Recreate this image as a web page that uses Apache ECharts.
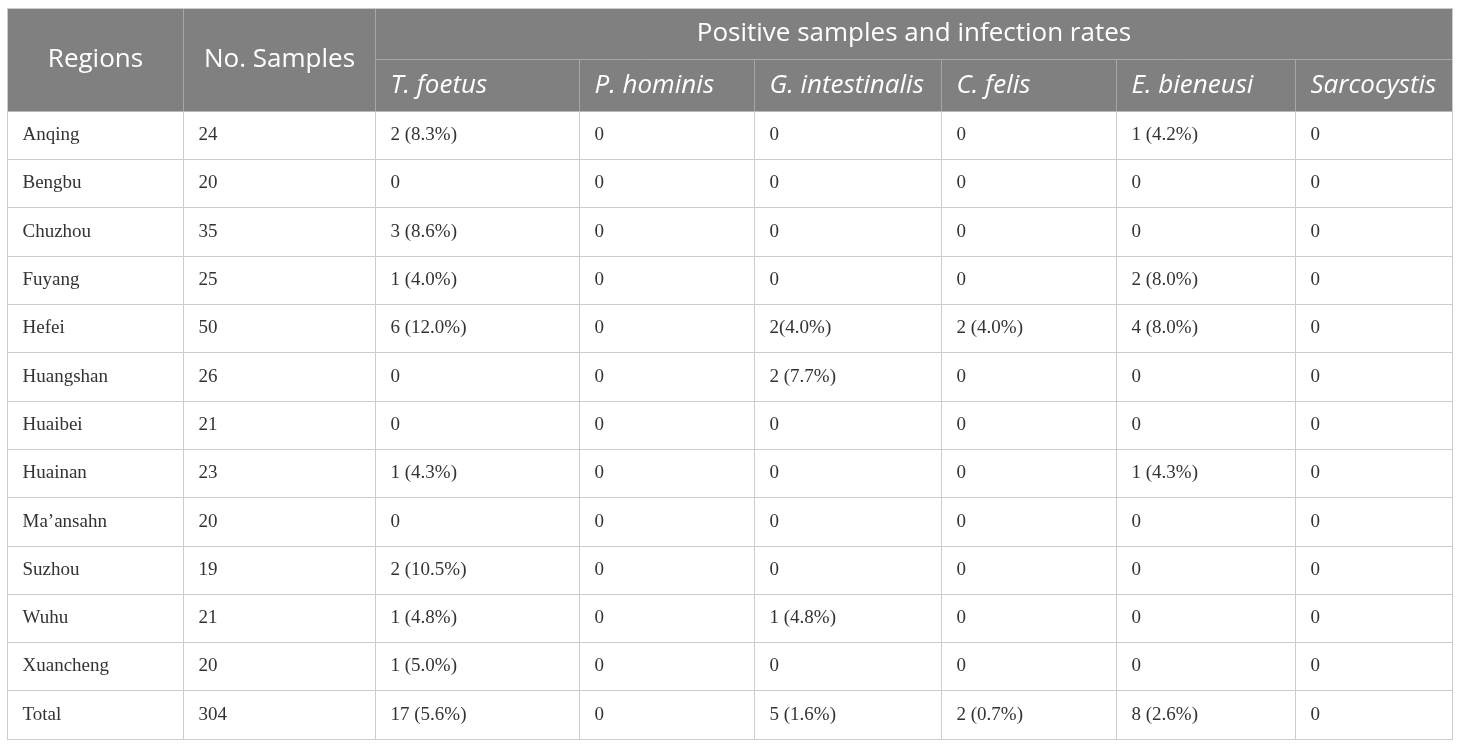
<!DOCTYPE html>
<html>
<head>
<meta charset="utf-8">
<style>
  html, body { margin: 0; padding: 0; background: #fff; }
  #chart { width: 1460px; height: 747px; }
</style>
<script src="https://cdn.jsdelivr.net/npm/echarts@6/dist/echarts.min.js"></script>
</head>
<body>
<div id="chart"></div>
<script>
  // Données du tableau
  const regions = ['Anqing', 'Bengbu', 'Chuzhou', 'Fuyang', 'Hefei', 'Huangshan', 'Huaibei',
    'Huainan', 'Ma\u2019ansahn', 'Suzhou', 'Wuhu', 'Xuancheng', 'Total'];
  const samples = ['24', '20', '35', '25', '50', '26', '21', '23', '20', '19', '21', '20', '304'];
  const species = ['T. foetus', 'P. hominis', 'G. intestinalis', 'C. felis', 'E. bieneusi', 'Sarcocystis'];
  const tFoetus = ['2 (8.3%)', '0', '3 (8.6%)', '1 (4.0%)', '6 (12.0%)', '0', '0', '1 (4.3%)', '0', '2 (10.5%)', '1 (4.8%)', '1 (5.0%)', '17 (5.6%)'];
  const pHominis = ['0', '0', '0', '0', '0', '0', '0', '0', '0', '0', '0', '0', '0'];
  const gIntestinalis = ['0', '0', '0', '0', '2(4.0%)', '2 (7.7%)', '0', '0', '0', '0', '1 (4.8%)', '0', '5 (1.6%)'];
  const cFelis = ['0', '0', '0', '0', '2 (4.0%)', '0', '0', '0', '0', '0', '0', '0', '2 (0.7%)'];
  const eBieneusi = ['1 (4.2%)', '0', '0', '2 (8.0%)', '4 (8.0%)', '0', '0', '1 (4.3%)', '0', '0', '0', '0', '8 (2.6%)'];
  const sarcocystis = ['0', '0', '0', '0', '0', '0', '0', '0', '0', '0', '0', '0', '0'];

  const columns = [regions, samples, tFoetus, pHominis, gIntestinalis, cFelis, eBieneusi, sarcocystis];
  const colWidths = [176, 192, 204, 175, 187, 175, 179, 157];

  const sansFont = '"Open Sans", "Noto Sans", sans-serif';
  const serifFont = '"Liberation Serif", "DejaVu Serif", serif';

  function buildBody() {
    const cells = [];
    columns.forEach((col, x) => {
      col.forEach((v, y) => {
        cells.push({ coord: [x, y], value: v });
      });
    });
    return cells;
  }

  const chart = echarts.init(document.getElementById('chart'));

  const option = {
    backgroundColor: '#fff',
    matrix: {
      left: 7,
      top: 8,
      width: 1445,
      height: 731,
      backgroundStyle: {
        color: '#fff',
        borderColor: '#cccccc',
        borderWidth: 1
      },
      x: {
        show: true,
        levels: [{ levelSize: 51 }, { levelSize: 52 }],
        data: [
          { value: 'Regions', size: colWidths[0] },
          { value: 'No. Samples', size: colWidths[1] },
          {
            value: 'Positive samples and infection rates',
            children: species.map((s, i) => ({
              value: s,
              size: colWidths[i + 2],
              label: { fontStyle: 'italic', align: 'left', position: 'insideLeft', padding: [0, 0, 0, 15] }
            }))
          }
        ],
        label: {
          color: '#fff',
          fontFamily: sansFont,
          fontSize: 26,
          overflow: 'none'
        },
        itemStyle: {
          color: '#808080',
          borderColor: '#a6a6a6',
          borderWidth: 1
        }
      },
      y: {
        show: false,
        data: regions
      },
      body: {
        data: buildBody(),
        label: {
          color: '#333',
          fontFamily: serifFont,
          fontSize: 19,
          align: 'left',
          position: 'insideLeft',
          padding: [5, 0, 0, 15],
          overflow: 'none'
        },
        itemStyle: {
          color: '#fff',
          borderColor: '#cccccc',
          borderWidth: 1
        }
      }
    }
  };

  chart.setOption(option);
  window.addEventListener('resize', () => chart.resize());
</script>
</body>
</html>
